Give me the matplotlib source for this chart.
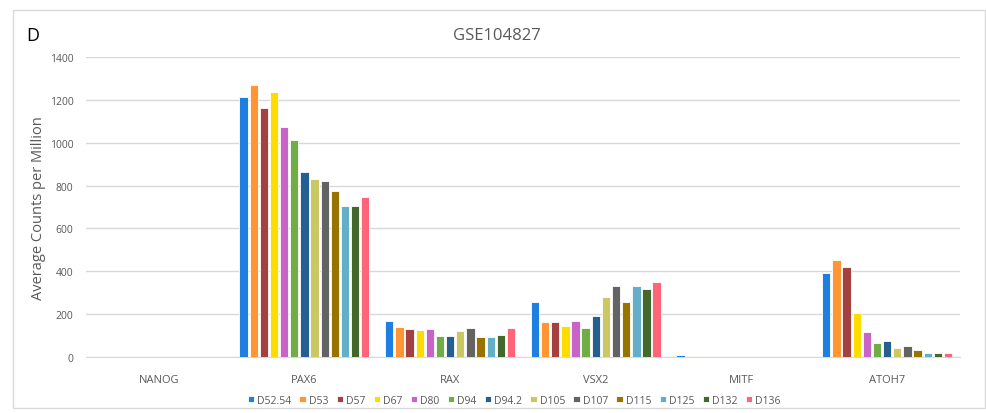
import numpy as np
import matplotlib
matplotlib.use("Agg")
from matplotlib import pyplot as plt
from matplotlib.patches import Rectangle

plt.rcParams['font.family'] = ['Open Sans', 'DejaVu Sans']

# genes along the x axis
genes = ["NANOG", "PAX6", "RAX", "VSX2", "MITF", "ATOH7"]
# one series per day
days = ["D52.54", "D53", "D57", "D67", "D80", "D94", "D94.2",
        "D105", "D107", "D115", "D125", "D132", "D136"]
colors = ["#1E7FE0", "#FF9633", "#A44040", "#FFDC00", "#C864C8", "#70AD47", "#255E91",
          "#C9C864", "#636363", "#997300", "#63AFCA", "#43682B", "#FF6478"]

# values per gene, order of days
nanog = [0, 0, 0, 0, 0, 0, 0, 0, 0, 0, 0, 0, 0]
pax6 = [1212, 1269, 1160, 1238, 1075, 1011, 862, 829, 820, 773, 705, 705, 748]
rax = [169, 138, 129, 126, 132, 98, 98, 120, 135, 92, 92, 104, 135]
vsx2 = [255, 162, 163, 145, 169, 135, 193, 279, 331, 255, 331, 318, 350]
mitf = [8, 4, 0, 0, 0, 0, 0, 0, 0, 0, 0, 0, 0]
atoh7 = [392, 453, 422, 207, 115, 67, 73, 44, 53, 33, 20, 20, 20]

data = np.array([nanog, pax6, rax, vsx2, mitf, atoh7])

fig = plt.figure(figsize=(9.87, 4.14), dpi=100)
ax = fig.add_axes([0.0871, 0.1353, 0.8855, 0.7246])

x = np.arange(len(genes))
slot = 0.905 / len(days)
for i in range(len(days)):
    ax.bar(x - 0.905 / 2 + slot * (i + 0.5), data[:, i], width=slot * 0.82,
           color=colors[i], edgecolor="white", linewidth=0.6, label=days[i], zorder=3)

ax.set_xlim(-0.5, len(genes) - 0.5)
ax.set_ylim(0, 1400)
ax.set_yticks(range(0, 1401, 200))
ax.yaxis.grid(True, color="#D9D9D9", linewidth=1, zorder=0)
for s in ["top", "right", "left"]:
    ax.spines[s].set_visible(False)
ax.spines["bottom"].set_color("#D9D9D9")
ax.tick_params(axis="both", length=0, colors="#595959", labelsize=8)
ax.tick_params(axis="y", labelsize=7.5, pad=9)
ax.tick_params(axis="x", pad=12)
ax.set_xticks(x)
ax.set_xticklabels(genes)
ax.set_ylabel("Average Counts per Million", fontsize=10.5, color="#595959")
ax.yaxis.set_label_coords(-0.046, 0.5)

fig.text(0.503, 0.912, "GSE104827", ha="center", va="center", fontsize=12, color="#595959")
fig.text(0.027, 0.912, "D", ha="left", va="center", fontsize=13, color="black")

ax.legend(loc="upper center", bbox_to_anchor=(0.49, -0.095), ncol=13, frameon=False,
          fontsize=7.5, handlelength=0.6, handleheight=0.6, handletextpad=0.3,
          columnspacing=0.8, labelcolor="#595959")

fig.patches.append(Rectangle((0.013, 0.012), 0.985, 0.962, transform=fig.transFigure,
                             fill=False, edgecolor="#D9D9D9", linewidth=1))

fig.savefig("out.png", dpi=100)
